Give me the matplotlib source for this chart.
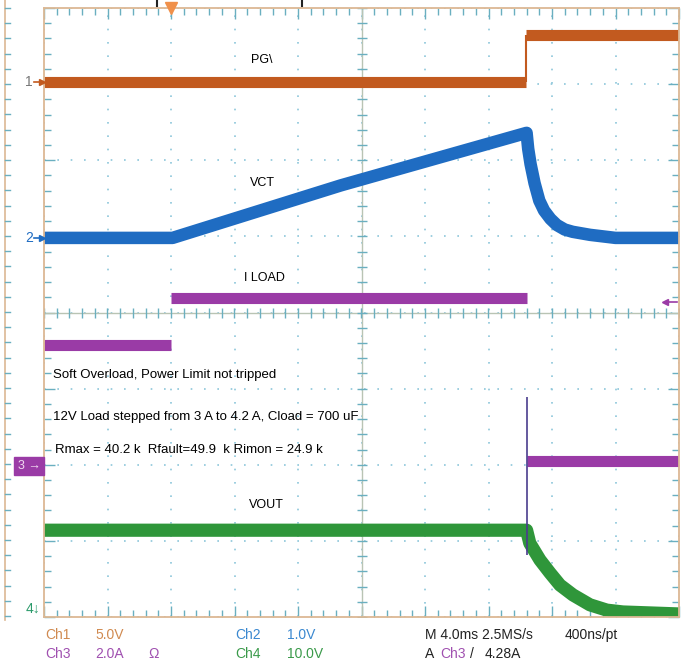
import numpy as np
import matplotlib
matplotlib.use("Agg")
import matplotlib.pyplot as plt
from matplotlib.lines import Line2D

plt.rcParams['font.family'] = ['Liberation Sans Narrow', 'Liberation Sans', 'DejaVu Sans']

# scope traces, time in ms, level in screen divisions (0..8)
t_pg = [-8, 22.35, np.nan, 22.35, 32]
pg = [7.03, 7.03, np.nan, 7.65, 7.65]
pg_edge_t = 22.35

t_vct = [-8, 0.1, 10.7, 22.4, 22.5, 22.65, 22.9, 23.2, 23.5, 23.9, 24.3,
         24.8, 25.3, 26.4, 28.0, 32]
vct = [4.98, 4.98, 5.67, 6.36, 6.15, 5.95, 5.7, 5.47, 5.34, 5.23, 5.15,
       5.09, 5.06, 5.02, 4.98, 4.98]

t_iload = [-8, 0, np.nan, 0, 22.4, np.nan, 22.45, 32]
iload = [3.57, 3.57, np.nan, 4.19, 4.19, np.nan, 2.05, 2.05]
spike_t = 22.4
spike_lo, spike_hi = 0.81, 2.89

t_vout = [-8, 22.4, 22.6, 23.24, 23.87, 24.5, 25.32, 26.39, 27.46, 28.47, 32]
vout = [1.14, 1.14, 0.97, 0.75, 0.58, 0.42, 0.29, 0.16, 0.09, 0.066, 0.04]

c_pg = '#c25a1f'
c_vct = '#1f6cc2'
c_il = '#9a3ba6'
c_vo = '#2f963a'
frame = '#dcb894'
tick_c = '#6aafc0'

W, H = 684, 665
fig = plt.figure(figsize=(W / 100, H / 100), dpi=100)
fig.patch.set_facecolor('white')
ax = fig.add_axes([44 / W, 1 - 617 / H, (679 - 44) / W, (617 - 8) / H])
ax.set_xlim(-8, 32)
ax.set_ylim(0, 8)

# graticule
ax.set_xticks(np.arange(-8, 32.1, 4))
ax.set_xticks(np.arange(-8, 32.1, 0.8), minor=True)
ax.set_yticks(np.arange(0, 8.1, 1))
ax.set_yticks(np.arange(0, 8.01, 0.2), minor=True)
ax.tick_params(which='both', direction='in', top=True, right=True,
               labelbottom=False, labelleft=False, color=tick_c, width=1)
ax.tick_params(which='major', length=8)
ax.tick_params(which='minor', length=5)
ax.grid(which='major', linestyle=(0, (1, 7)), color='#8cc6da', lw=1.2)
for s in ax.spines.values():
    s.set_color(frame)
    s.set_linewidth(1.3)
ax.axhline(4, color='#b9c4b4', lw=1)
ax.axvline(12, color='#b9c4b4', lw=1)
ax.plot(np.arange(-8, 32.1, 0.8), np.full(51, 4), ls='none', marker='|',
        ms=7, mew=1, color=tick_c)
ax.plot(np.full(41, 12), np.arange(0, 8.01, 0.2), ls='none', marker='_',
        ms=7, mew=1, color=tick_c)

# traces
for tt, yy, c, lw in [(t_pg, pg, c_pg, 8), (t_vct, vct, c_vct, 9),
                      (t_iload, iload, c_il, 8), (t_vout, vout, c_vo, 9.5)]:
    ax.plot(tt, yy, color=c, lw=lw, solid_capstyle='butt', solid_joinstyle='round')
ax.vlines(pg_edge_t, pg[0], pg[-1], color=c_pg, lw=1.5)
ax.vlines(spike_t, spike_lo, spike_hi, color='#4a3d8e', lw=1.2)

# labels inside the screen
lab = 9
ax.text(5.73, 7.32, 'PG\\', fontsize=lab, ha='center', va='center')
ax.text(5.73, 5.70, 'VCT', fontsize=lab, ha='center', va='center')
ax.text(5.86, 4.45, 'I LOAD', fontsize=lab, ha='center', va='center')
ax.text(5.98, 1.47, 'VOUT', fontsize=lab, ha='center', va='center')
note = 9.5
ax.text(-7.43, 3.18, 'Soft Overload, Power Limit not tripped', fontsize=note, va='center')
ax.text(-7.43, 2.63, '12V Load stepped from 3 A to 4.2 A, Cload = 700 uF', fontsize=note, va='center')
ax.text(-7.31, 2.19, 'Rmax = 40.2 k  Rfault=49.9  k Rimon = 24.9 k', fontsize=note, va='center')

# trigger position marker
ax.plot([0], [8], marker='v', ms=8, color='#f0904a', clip_on=False, zorder=5)


def fx(x):
    return x / W


def fy(y):
    return 1 - y / H


def arrow(x0, x1, y, c, head='>'):
    idx = 1 if head == '>' else 0
    fig.add_artist(Line2D([fx(x0), fx(x1)], [fy(y), fy(y)], color=c, lw=1.2,
                          marker=head, markevery=[idx], ms=4))


# trigger level marker on the right
arrow(665, 677, 302, c_il, head='<')

# channel markers on the left
fig.text(fx(29), fy(82), '1', color='#777777', fontsize=10, ha='center', va='center')
arrow(34, 42, 82, c_pg)
fig.text(fx(29), fy(238), '2', color=c_vct, fontsize=10, ha='center', va='center')
arrow(34, 42, 238, c_vct)
fig.text(fx(29), fy(466), '3 \u2192', color='#f0d8f0', fontsize=9, ha='center', va='center',
         bbox=dict(boxstyle='square,pad=0.25', fc=c_il, ec=c_il))
fig.text(fx(33), fy(609), '4\u2193', color='#2a9a6a', fontsize=10, ha='center', va='center')

# neighbouring screen edge at far left and marks above the frame
fig.add_artist(Line2D([fx(5), fx(5)], [fy(0), fy(620)], color=frame, lw=1.2))
for yy in np.arange(8, 617, 15.2):
    fig.add_artist(Line2D([fx(5), fx(10)], [fy(yy), fy(yy)], color=tick_c, lw=1))
for xx in (157, 302):
    fig.add_artist(Line2D([fx(xx), fx(xx)], [fy(0), fy(6)], color='#222222', lw=1.5))

# readout at the bottom
bot1, bot2 = fy(635), fy(654)
fs = 10
fig.text(fx(45), bot1, 'Ch1', color='#d08a50', fontsize=fs, va='center')
fig.text(fx(95), bot1, '5.0V', color='#d08a50', fontsize=fs, va='center')
fig.text(fx(45), bot2, 'Ch3', color='#a050b0', fontsize=fs, va='center')
fig.text(fx(95), bot2, '2.0A', color='#a050b0', fontsize=fs, va='center')
fig.text(fx(148), bot2, '\u03a9', color='#a050b0', fontsize=fs, va='center')
fig.text(fx(235), bot1, 'Ch2', color='#3a88d0', fontsize=fs, va='center')
fig.text(fx(287), bot1, '1.0V', color='#3a88d0', fontsize=fs, va='center')
fig.text(fx(235), bot2, 'Ch4', color='#3a9a4a', fontsize=fs, va='center')
fig.text(fx(287), bot2, '10.0V', color='#3a9a4a', fontsize=fs, va='center')
fig.text(fx(425), bot1, 'M 4.0ms 2.5MS/s', color='#222222', fontsize=fs, va='center')
fig.text(fx(565), bot1, '400ns/pt', color='#222222', fontsize=fs, va='center')
fig.text(fx(425), bot2, 'A', color='#222222', fontsize=fs, va='center')
fig.text(fx(440), bot2, 'Ch3', color='#a050b0', fontsize=fs, va='center')
fig.text(fx(470), bot2, '/', color='#222222', fontsize=fs, va='center')
fig.text(fx(485), bot2, '4.28A', color='#222222', fontsize=fs, va='center')

fig.savefig('out.png', dpi=100)
